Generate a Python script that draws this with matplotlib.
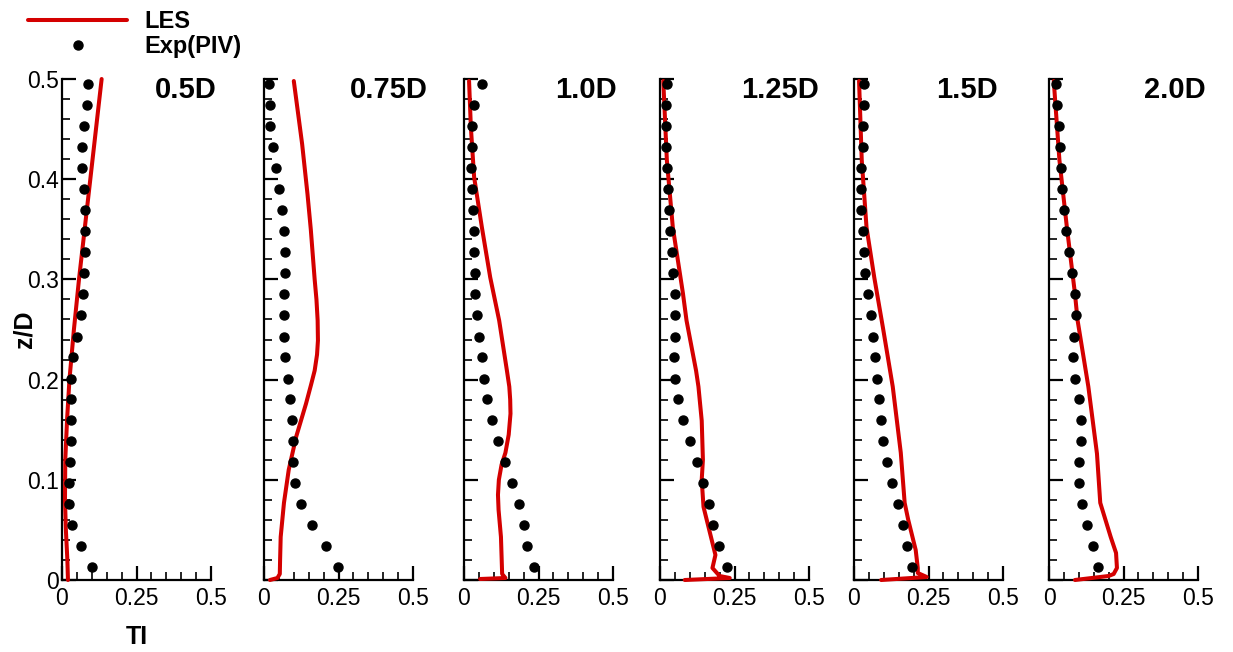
import numpy as np
import matplotlib
matplotlib.use('Agg')
import matplotlib.pyplot as plt
from matplotlib.ticker import FixedLocator

plt.rcParams['font.family'] = ['Liberation Sans', 'DejaVu Sans']

# streamwise stations
stations = ['0.5D', '0.75D', '1.0D', '1.25D', '1.5D', '2.0D']

# PIV measurement heights (z/D), shared by all stations
z_piv = [0.013, 0.034, 0.055, 0.076, 0.097, 0.118, 0.139, 0.160, 0.181, 0.201,
         0.223, 0.243, 0.264, 0.285, 0.306, 0.327, 0.348, 0.369, 0.390, 0.411,
         0.432, 0.453, 0.474, 0.495]

# PIV turbulence intensity at each station
ti_piv_05 = [0.100, 0.064, 0.035, 0.025, 0.025, 0.027, 0.029, 0.029, 0.030, 0.031,
             0.038, 0.051, 0.063, 0.071, 0.073, 0.076, 0.078, 0.076, 0.073, 0.068,
             0.068, 0.074, 0.083, 0.086]
ti_piv_075 = [0.248, 0.209, 0.162, 0.124, 0.103, 0.097, 0.097, 0.093, 0.087, 0.079,
              0.072, 0.066, 0.067, 0.068, 0.069, 0.069, 0.066, 0.060, 0.051, 0.039,
              0.029, 0.021, 0.019, 0.018]
ti_piv_10 = [0.235, 0.212, 0.201, 0.185, 0.160, 0.137, 0.115, 0.094, 0.077, 0.067,
             0.060, 0.052, 0.044, 0.038, 0.036, 0.035, 0.033, 0.029, 0.027, 0.025,
             0.026, 0.026, 0.035, 0.062]
ti_piv_125 = [0.224, 0.197, 0.178, 0.163, 0.144, 0.123, 0.100, 0.077, 0.060, 0.051,
              0.048, 0.050, 0.052, 0.050, 0.045, 0.039, 0.034, 0.029, 0.026, 0.024,
              0.021, 0.019, 0.019, 0.024]
ti_piv_15 = [0.194, 0.179, 0.164, 0.148, 0.127, 0.110, 0.097, 0.091, 0.085, 0.077,
             0.071, 0.064, 0.056, 0.047, 0.037, 0.033, 0.029, 0.025, 0.023, 0.025,
             0.029, 0.031, 0.032, 0.032]
ti_piv_20 = [0.165, 0.146, 0.127, 0.110, 0.100, 0.100, 0.108, 0.109, 0.101, 0.088,
             0.080, 0.084, 0.089, 0.087, 0.078, 0.066, 0.057, 0.049, 0.044, 0.040,
             0.036, 0.032, 0.027, 0.025]

# LES profiles: heights and TI
z_les_05 = [0.000, 0.020, 0.050, 0.080, 0.120, 0.160, 0.200, 0.250, 0.300, 0.350,
            0.400, 0.450, 0.500]
ti_les_05 = [0.020, 0.018, 0.013, 0.010, 0.011, 0.017, 0.025, 0.040, 0.057, 0.076,
             0.095, 0.114, 0.133]

z_les_075 = [0.000, 0.002, 0.006, 0.020, 0.043, 0.077, 0.110, 0.143, 0.176, 0.195,
             0.209, 0.225, 0.239, 0.259, 0.280, 0.300, 0.350, 0.385, 0.435, 0.498]
ti_les_075 = [0.020, 0.045, 0.053, 0.054, 0.056, 0.067, 0.083, 0.108, 0.141, 0.158,
              0.170, 0.178, 0.181, 0.180, 0.176, 0.170, 0.157, 0.146, 0.128, 0.100]

z_les_10 = [0.001, 0.002, 0.006, 0.043, 0.070, 0.085, 0.100, 0.115, 0.127, 0.145,
            0.166, 0.180, 0.193, 0.209, 0.259, 0.302, 0.352, 0.402, 0.452, 0.498]
ti_les_10 = [0.054, 0.139, 0.128, 0.124, 0.116, 0.114, 0.117, 0.126, 0.139, 0.150,
             0.156, 0.155, 0.152, 0.144, 0.118, 0.088, 0.060, 0.034, 0.023, 0.017]

z_les_125 = [0.000, 0.002, 0.004, 0.012, 0.025, 0.043, 0.073, 0.100, 0.120, 0.159,
             0.193, 0.209, 0.259, 0.286, 0.352, 0.419, 0.498]
ti_les_125 = [0.083, 0.234, 0.200, 0.176, 0.186, 0.171, 0.146, 0.140, 0.144, 0.140,
              0.129, 0.121, 0.089, 0.077, 0.043, 0.023, 0.011]

z_les_15 = [0.000, 0.003, 0.007, 0.012, 0.030, 0.060, 0.077, 0.127, 0.193, 0.252,
            0.302, 0.352, 0.419, 0.498]
ti_les_15 = [0.091, 0.244, 0.214, 0.214, 0.207, 0.182, 0.170, 0.157, 0.130, 0.097,
             0.068, 0.042, 0.026, 0.017]

z_les_20 = [0.000, 0.004, 0.006, 0.012, 0.027, 0.043, 0.077, 0.126, 0.193, 0.259,
            0.286, 0.352, 0.419, 0.498]
ti_les_20 = [0.087, 0.200, 0.217, 0.228, 0.225, 0.207, 0.172, 0.161, 0.132, 0.096,
             0.087, 0.060, 0.035, 0.016]

x_ticks = [0, 0.25, 0.5]
x_ticklabels = ['0', '0.25', '0.5']
y_ticks = [0, 0.1, 0.2, 0.3, 0.4, 0.5]
y_ticklabels = ['0', '0.1', '0.2', '0.3', '0.4', '0.5']

piv = [ti_piv_05, ti_piv_075, ti_piv_10, ti_piv_125, ti_piv_15, ti_piv_20]
les = [(ti_les_05, z_les_05), (ti_les_075, z_les_075), (ti_les_10, z_les_10),
       (ti_les_125, z_les_125), (ti_les_15, z_les_15), (ti_les_20, z_les_20)]

red = '#d40000'
W, H = 1233, 652
fig = plt.figure(figsize=(W / 100, H / 100), dpi=100)

lefts = [62, 264, 464, 660, 854, 1049]
label_x = [0.83, 0.836, 0.82, 0.805, 0.756, 0.846]
aw, bot, ah = 149, 72, 501

for i in range(6):
    ax = fig.add_axes([lefts[i] / W, bot / H, aw / W, ah / H])
    ti, z = les[i]
    l1, = ax.plot(ti, z, color=red, lw=2.9, solid_joinstyle='round',
                  solid_capstyle='round', clip_on=False, zorder=3, label='LES')
    l2, = ax.plot(piv[i], z_piv, 'o', color='black', ms=6.5, ls='none',
                  clip_on=False, zorder=4, label='Exp(PIV)')
    ax.set_xlim(0, 0.5)
    ax.set_ylim(0, 0.5)
    for s in ['top', 'right']:
        ax.spines[s].set_visible(False)
    for s in ['left', 'bottom']:
        ax.spines[s].set_linewidth(1.6)
    ax.xaxis.set_major_locator(FixedLocator(x_ticks))
    ax.xaxis.set_minor_locator(FixedLocator(np.arange(0.05, 0.5, 0.05)))
    ax.yaxis.set_major_locator(FixedLocator(y_ticks))
    ax.yaxis.set_minor_locator(FixedLocator(np.arange(0.02, 0.5, 0.02)))
    ax.set_xticklabels(x_ticklabels)
    ax.tick_params(which='major', direction='in', length=10, width=1.6,
                   labelsize=16.5, colors='black')
    ax.tick_params(which='minor', direction='in', length=5.5, width=1.2)
    ax.tick_params(axis='x', pad=5)
    ax.tick_params(axis='y', pad=2)
    if i == 0:
        ax.set_yticklabels(y_ticklabels)
        ax.set_ylabel('z/D', fontsize=18, fontweight='bold')
        ax.yaxis.set_label_coords(-0.17, 0.5)
        ax.set_xlabel('TI', fontsize=18, fontweight='bold', labelpad=11)
        handles = [l1, l2]
    else:
        ax.set_yticklabels([])
    ax.text(label_x[i], 0.978, stations[i], transform=ax.transAxes,
            ha='center', va='center', fontsize=21, fontweight='bold')

fig.legend(handles, ['LES', 'Exp(PIV)'], loc='upper left',
           bbox_to_anchor=(28 / W, 1 - 10 / H), frameon=False, numpoints=1,
           prop={'size': 17, 'weight': 'bold'}, handlelength=4.2,
           handletextpad=0.75, labelspacing=0.1, borderpad=0,
           borderaxespad=0)

fig.savefig('out.png', dpi=100)
